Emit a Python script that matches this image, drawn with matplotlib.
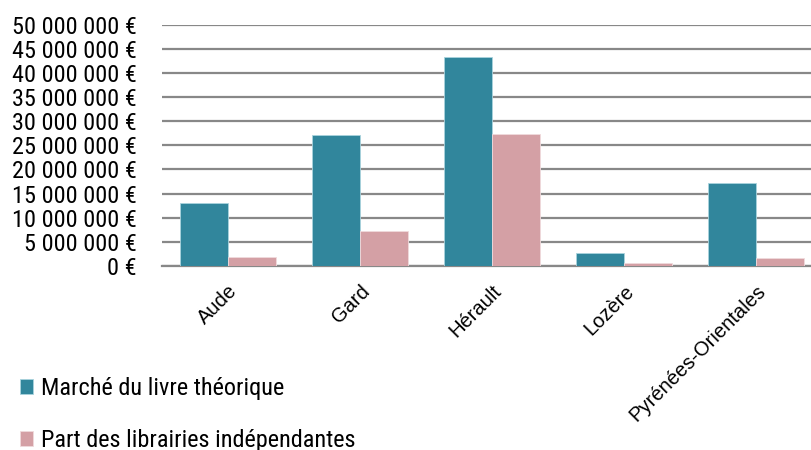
import matplotlib.pyplot as plt
import matplotlib.ticker as mticker
import numpy as np

plt.rcParams['font.family'] = ['Roboto Condensed', 'DejaVu Sans']

# Data
departements = ['Aude', 'Gard', 'Hérault', 'Lozère', 'Pyrénées-Orientales']
marche_theorique = [13_100_000, 27_100_000, 43_200_000, 2_600_000, 17_100_000]
part_independantes = [1_800_000, 7_200_000, 27_300_000, 600_000, 1_650_000]

blue = '#31869C'
pink = '#D4A0A5'
grid_grey = '#888888'

fig = plt.figure(figsize=(8.11, 4.5), dpi=100)
# plot area runs a bit past the right edge, like the original
ax = fig.add_axes([162 / 811, 184 / 450, 660 / 811, 241.5 / 450])

x = np.arange(len(departements))
w = 0.364
b1 = ax.bar(x - w / 2, marche_theorique, w, color=blue, edgecolor='#A9D3DD',
            linewidth=0.6, label='Marché du livre théorique', zorder=3)
b2 = ax.bar(x + w / 2, part_independantes, w, color=pink, edgecolor='#F0DADC',
            linewidth=0.6, label='Part des librairies indépendantes', zorder=3)

ax.set_xlim(-0.5, 4.5)
ax.set_ylim(0, 50_000_000)
ax.set_yticks(np.arange(0, 50_000_001, 5_000_000))
ax.yaxis.set_major_formatter(mticker.FuncFormatter(
    lambda v, p: f'{int(v):,} €'.replace(',', ' ')))
ax.grid(axis='y', color=grid_grey, linewidth=1.6, zorder=0)
for s in ['top', 'right', 'left']:
    ax.spines[s].set_visible(False)
ax.spines['bottom'].set_color(grid_grey)
ax.spines['bottom'].set_linewidth(1.6)
ax.tick_params(axis='y', length=0, pad=18, labelsize=17.5)
ax.tick_params(axis='x', length=0, pad=11)
ax.set_xticks(x)
ax.set_xticklabels(departements, rotation=45, ha='right', rotation_mode='anchor',
                   family='Liberation Sans', fontsize=14.5)

fig.legend(handles=[b1, b2], loc='upper left', bbox_to_anchor=(20 / 811, 1 - 377 / 450),
           frameon=False, fontsize=17.5, handlelength=0.55, handleheight=0.6,
           handletextpad=0.3, labelspacing=1.2, borderpad=0, borderaxespad=0)

fig.savefig('out.png', dpi=100)
